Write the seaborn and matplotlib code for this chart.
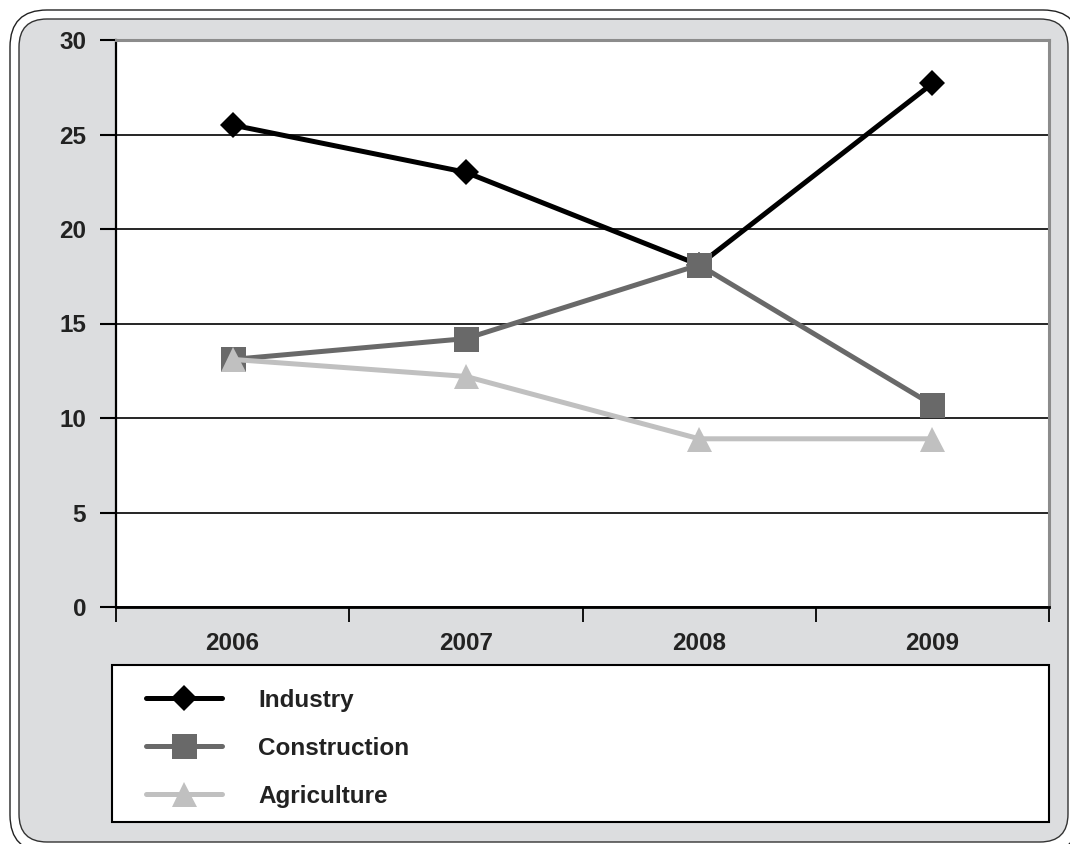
import numpy as np
import pandas as pd
import matplotlib
matplotlib.use('Agg')
import matplotlib.pyplot as plt
import seaborn as sns
from matplotlib.patches import FancyBboxPatch, Rectangle

# chart data
years = ['2006', '2007', '2008', '2009']
industry = [25.5, 23.0, 18.1, 27.7]
construction = [13.1, 14.2, 18.1, 10.7]
agriculture = [13.1, 12.2, 8.9, 8.9]
y_ticks = [0, 5, 10, 15, 20, 25, 30]

sns.set_style('white')
plt.rcParams['font.family'] = ['Liberation Sans', 'DejaVu Sans']
plt.rcParams['font.weight'] = 'bold'
text_color = '#222222'
fs = 17.5

fig = plt.figure(figsize=(10.7, 8.44), dpi=100)
fig.patch.set_facecolor('white')

# rounded double frame around the chart
outer = FancyBboxPatch((0.10, -0.08), 10.70, 8.42, boxstyle='round,pad=0,rounding_size=0.37',
                       transform=fig.dpi_scale_trans, facecolor='white', edgecolor='#222222',
                       lw=1.0, zorder=-3)
inner = FancyBboxPatch((0.19, 0.02), 10.49, 8.23, boxstyle='round,pad=0,rounding_size=0.28',
                       transform=fig.dpi_scale_trans, facecolor='#DCDDDF', edgecolor='#333333',
                       lw=1.0, zorder=-2)
fig.patches.extend([outer, inner])

# legend box
leg_box = Rectangle((112 / 1070, (844 - 822) / 844), (1049 - 112) / 1070, (822 - 665) / 844,
                    transform=fig.transFigure, facecolor='white', edgecolor='black', lw=1.5, zorder=-1)
fig.patches.append(leg_box)

ax = fig.add_axes([116 / 1070, (844 - 607) / 844, (1049 - 116) / 1070, (607 - 40) / 844])
ax.set_facecolor('white')

series = [
    ('Industry', industry, 'black', 'D', 13),
    ('Construction', construction, '#696969', 's', 18),
    ('Agriculture', agriculture, '#C0C0C0', '^', 18),
]
for name, vals, col, mk, ms in series:
    sns.lineplot(x=years, y=vals, ax=ax, color=col, marker=mk, markersize=ms,
                 markeredgewidth=0, lw=3.6, label=name)

ax.set_xlim(-0.5, 3.5)
ax.set_ylim(0, 30)
ax.set_yticks(y_ticks)
ax.set_xticks(range(len(years)))
ax.set_xticklabels(years)
ax.set_xticks(np.arange(-0.5, 3.6, 1.0), minor=True)
ax.set_xlabel('')
ax.set_ylabel('')

ax.tick_params(axis='x', which='major', bottom=True, length=0, pad=18, labelsize=fs,
               labelcolor=text_color)
ax.tick_params(axis='x', which='minor', bottom=True, length=11, width=1.3, color='black',
               direction='out')
ax.tick_params(axis='y', which='major', left=True, length=11.5, width=1.5, color='black',
               direction='out', pad=10, labelsize=fs, labelcolor=text_color)
for lab in ax.get_xticklabels() + ax.get_yticklabels():
    lab.set_fontweight('bold')

ax.set_axisbelow(True)
ax.yaxis.grid(True, color='black', lw=1.2)
ax.xaxis.grid(False)

ax.spines['left'].set_color('black')
ax.spines['left'].set_linewidth(1.6)
ax.spines['bottom'].set_color('black')
ax.spines['bottom'].set_linewidth(2.0)
ax.spines['top'].set_color('#8C8C8C')
ax.spines['top'].set_linewidth(2.2)
ax.spines['right'].set_color('#8C8C8C')
ax.spines['right'].set_linewidth(2.2)
for s in ax.spines.values():
    s.set_visible(True)

handles, labels = ax.get_legend_handles_labels()
ax.get_legend().remove()
leg = fig.legend(handles, labels, loc='upper left', bbox_to_anchor=(146 / 1070, (844 - 689) / 844),
                 bbox_transform=fig.transFigure, frameon=False, borderpad=0, borderaxespad=0,
                 handlelength=3.13, handletextpad=1.49, labelspacing=1.02,
                 prop={'size': fs, 'weight': 'bold'})
for t in leg.get_texts():
    t.set_color(text_color)

fig.savefig('out.png', dpi=100)
